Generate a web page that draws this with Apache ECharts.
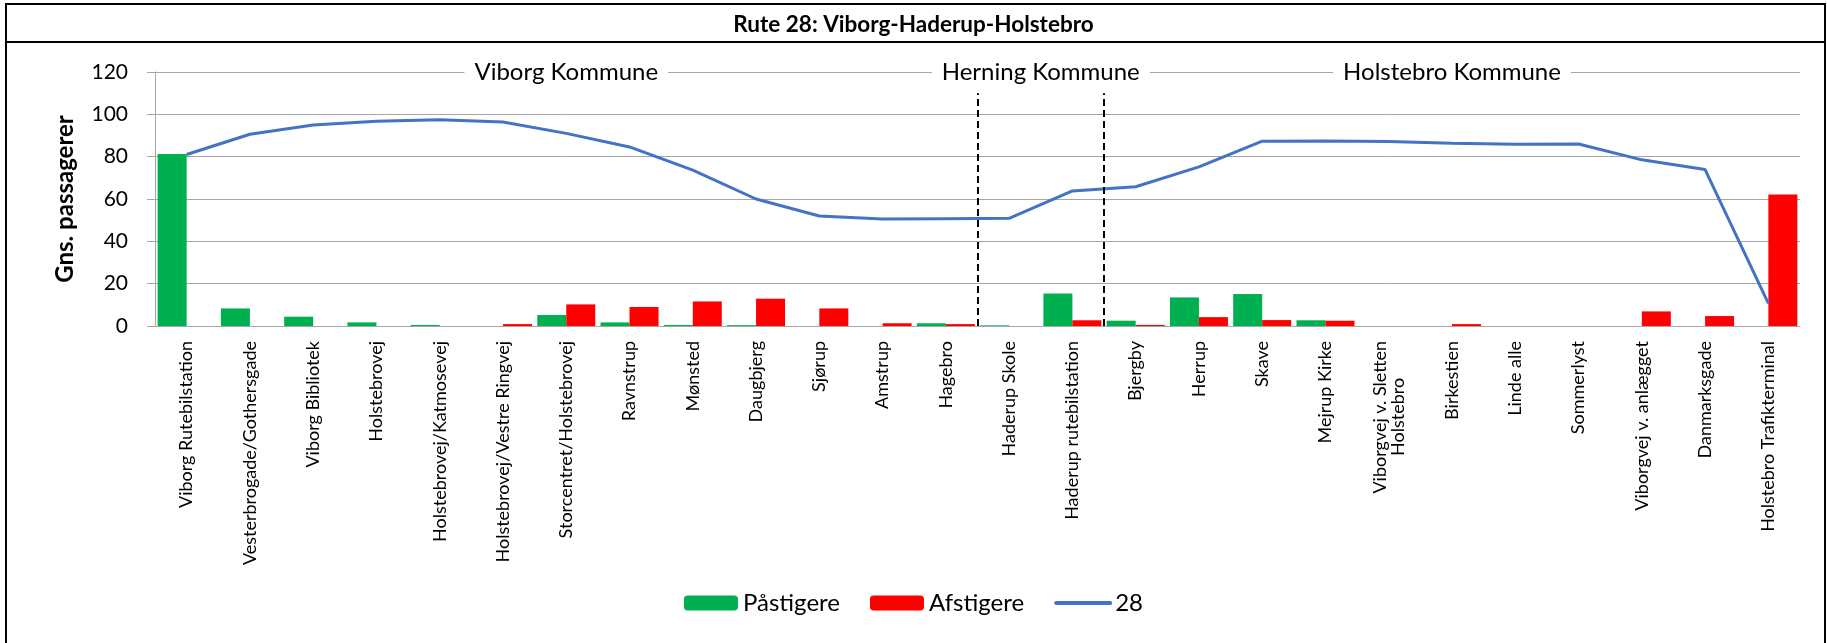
<!DOCTYPE html>
<html>
<head>
<meta charset="utf-8">
<title>Rute 28</title>
<script src="https://cdn.jsdelivr.net/npm/echarts@6/dist/echarts.min.js"></script>
<style>
  html, body { margin: 0; padding: 0; background: #fff; }
  #chart { width: 1827px; height: 643px; }
</style>
</head>
<body>
<div id="chart"></div>
<script>
// stoppesteder langs ruten
const stops = [
  'Viborg Rutebilstation', 'Vesterbrogade/Gothersgade', 'Viborg Bibliotek', 'Holstebrovej',
  'Holstebrovej/Katmosevej', 'Holstebrovej/Vestre Ringvej', 'Storcentret/Holstebrovej', 'Ravnstrup',
  'Mønsted', 'Daugbjerg', 'Sjørup', 'Amstrup', 'Hagebro', 'Haderup Skole', 'Haderup rutebilstation',
  'Bjergby', 'Herrup', 'Skave', 'Mejrup Kirke', 'Viborgvej v. Sletten\nHolstebro', 'Birkestien',
  'Linde alle', 'Sommerlyst', 'Viborgvej v. anlægget', 'Danmarksgade', 'Holstebro Trafikterminal'
];
const paastigere = [81.3, 8.3, 4.4, 1.7, 0.5, 0, 5.2, 1.7, 0.5, 0.4, 0, 0, 1.3, 0.3, 15.4, 2.5, 13.5, 15.1, 2.7, 0, 0, 0, 0, 0, 0, 0];
const afstigere = [0, 0, 0, 0, 0, 0.9, 10.2, 9.0, 11.6, 12.9, 8.3, 1.3, 0.9, 0, 2.7, 0.5, 4.2, 2.8, 2.5, 0, 0.9, 0, 0, 6.9, 4.7, 62.1];
const belastning = [81, 90.6, 95, 96.7, 97.4, 96.4, 91, 84.6, 73.6, 60, 52, 50.5, 50.7, 50.9, 63.8, 65.8, 75.2, 87.3, 87.4, 87.2, 86.3, 85.9, 86, 78.5, 73.9, 10.7];

// kommuner: navn, første og sidste stop
const kommuner = ['Viborg Kommune', 'Herning Kommune', 'Holstebro Kommune'];
const kommuneFra = [0, 13, 15];
const kommuneTil = [12, 14, 25];
// kommunegrænser (mellem stop) og højden på de stiplede linjer
const graenser = [13, 15];
const graenseTop = 110;

const yTicks = { min: 0, max: 120, interval: 20 };

const font = 'Lato, "Noto Sans", sans-serif';
const gridGray = '#A6A6A6';
const labelSize = 18;

// centrer ekstra linjer i de drejede etiketter (etiketterne er højrestillede)
const measure = document.createElement('canvas').getContext('2d');
measure.font = labelSize + 'px ' + font;
const centerLines = v => {
  const lines = v.split('\n');
  if (lines.length < 2) return v;
  const w0 = measure.measureText(lines[0]).width;
  const sp = measure.measureText('\u00a0').width;
  return lines.map((s, i) => {
    if (!i) return s;
    const n = Math.max(0, Math.round((w0 - measure.measureText(s).width) / 2 / sp));
    return s + '\u00a0'.repeat(n);
  }).join('\n');
};

const chart = echarts.init(document.getElementById('chart'));

const option = {
  animation: false,
  textStyle: { fontFamily: font, color: '#000' },
  title: {
    text: 'Rute 28: Viborg-Haderup-Holstebro',
    left: 'center',
    top: 8,
    textStyle: { fontFamily: font, fontWeight: 'bold', fontSize: 22.5, color: '#000' }
  },
  graphic: [
    { type: 'rect', shape: { x: 6, y: 4, width: 1819, height: 700 },
      style: { fill: 'none', stroke: '#000', lineWidth: 2 }, silent: true },
    { type: 'line', shape: { x1: 6, y1: 42, x2: 1826, y2: 42 },
      style: { stroke: '#000', lineWidth: 2 }, silent: true }
  ],
  legend: {
    data: [
      'Påstigere',
      'Afstigere',
      // kun linjen, ingen cirkel i forklaringen
      {
        name: '28',
        itemStyle: { color: 'transparent', borderColor: 'transparent', borderWidth: 0, opacity: 0 },
        lineStyle: { width: 4, cap: 'round' }
      }
    ],
    bottom: 23,
    left: 'center',
    itemWidth: 54,
    itemHeight: 15,
    itemGap: 30,
    textStyle: { fontFamily: font, fontSize: 24, color: '#000' }
  },
  grid: { left: 155, right: 27, top: 72, bottom: 317 },
  xAxis: [
    {
      type: 'category',
      data: stops,
      axisLine: { lineStyle: { color: gridGray } },
      axisTick: { length: 6, lineStyle: { color: gridGray } },
      axisLabel: {
        rotate: 90,
        interval: 0,
        margin: 15,
        fontSize: labelSize,
        fontFamily: font,
        color: '#000',
        formatter: centerLines
      }
    },
    { type: 'value', min: 0, max: stops.length, show: false }
  ],
  yAxis: {
    type: 'value',
    min: yTicks.min,
    max: yTicks.max,
    interval: yTicks.interval,
    name: 'Gns. passagerer',
    nameLocation: 'middle',
    nameGap: 78,
    nameTextStyle: { fontFamily: font, fontWeight: 'bold', fontSize: 24, color: '#000' },
    axisLine: { show: true, lineStyle: { color: gridGray } },
    axisTick: { show: true, length: 8, lineStyle: { color: gridGray } },
    axisLabel: { fontSize: 21, margin: 27, color: '#000', fontFamily: font },
    splitLine: { lineStyle: { color: gridGray, width: 1 } }
  },
  series: [
    {
      name: 'Påstigere',
      type: 'bar',
      data: paastigere,
      barWidth: 29,
      barGap: '0%',
      itemStyle: { color: '#00B050' }
    },
    {
      name: 'Afstigere',
      type: 'bar',
      data: afstigere,
      barWidth: 29,
      barGap: '0%',
      itemStyle: { color: '#FF0000' }
    },
    {
      name: '28',
      type: 'line',
      data: belastning,
      symbol: 'none',
      lineStyle: { color: '#4472C4', width: 3 },
      itemStyle: { color: '#4472C4' },
      z: 3,
      markArea: {
        silent: true,
        itemStyle: { color: 'transparent' },
        label: {
          position: 'inside',
          fontFamily: font,
          fontSize: 24,
          color: '#000',
          backgroundColor: '#fff',
          padding: [2, 10]
        },
        data: kommuner.map((k, i) => [
          { name: k, xAxis: stops[kommuneFra[i]], yAxis: yTicks.max },
          { xAxis: stops[kommuneTil[i]], yAxis: yTicks.max }
        ])
      }
    },
    {
      name: 'graenser',
      type: 'line',
      xAxisIndex: 1,
      data: [],
      silent: true,
      markLine: {
        silent: true,
        symbol: 'none',
        label: { show: false },
        lineStyle: { color: '#000', type: [7, 4], width: 2 },
        data: graenser.map(g => [{ coord: [g, 0] }, { coord: [g, graenseTop] }])
      }
    }
  ]
};

chart.setOption(option);
</script>
</body>
</html>
